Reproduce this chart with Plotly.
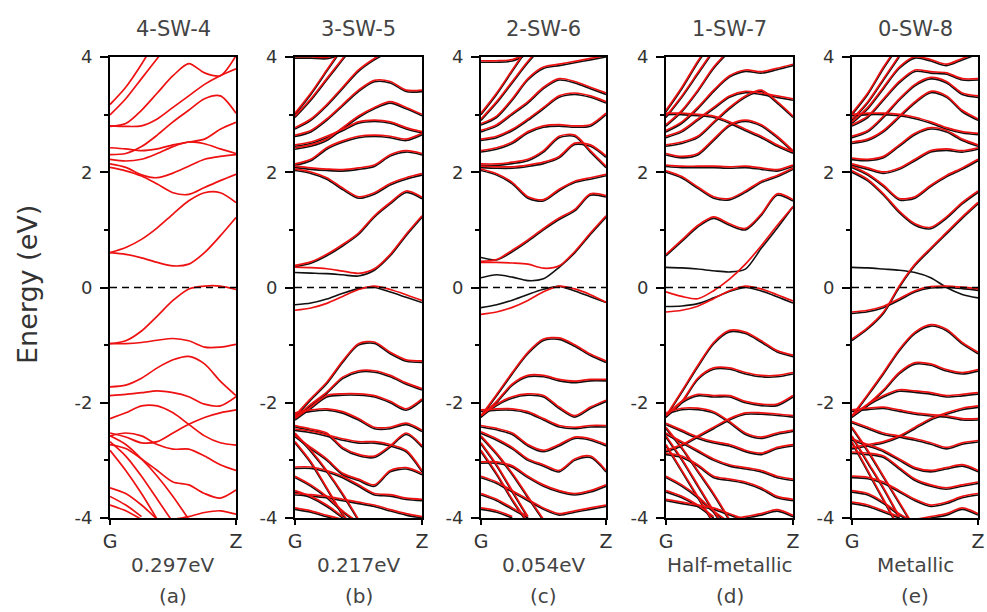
import plotly.graph_objects as go

# ---------------- data ----------------
K = [0, 0.125, 0.25, 0.375, 0.5, 0.625, 0.75, 0.875, 1.0]
TITLES = ["4-SW-4", "3-SW-5", "2-SW-6", "1-SW-7", "0-SW-8"]
GAP_LABELS = ["0.297eV", "0.217eV", "0.054eV", "Half-metallic", "Metallic"]
LETTERS = ["(a)", "(b)", "(c)", "(d)", "(e)"]
Y_TICKS = [-4, -2, 0, 2, 4]
Y_LABELS = ["-4", "-2", "0", "2", "4"]
Y_MINOR = [-3, -1, 1, 3]
X_TICKS = [0, 1]
X_LABELS = ["G", "Z"]

# panel (a): non-magnetic, red only
A_UP = [
    [0.58, 0.55, 0.49, 0.41, 0.35, 0.38, 0.58, 0.87, 1.19],
    [0.58, 0.67, 0.81, 1.01, 1.25, 1.48, 1.62, 1.62, 1.45],
    [2.06, 2.0, 1.91, 1.77, 1.62, 1.59, 1.71, 1.83, 1.94],
    [2.12, 2.06, 1.93, 1.88, 1.96, 2.08, 2.2, 2.25, 2.28],
    [2.2, 2.17, 2.2, 2.3, 2.42, 2.5, 2.47, 2.38, 2.3],
    [2.28, 2.3, 2.42, 2.62, 2.85, 3.05, 3.25, 3.3, 3.0],
    [2.4, 2.38, 2.35, 2.38, 2.45, 2.5, 2.55, 2.72, 2.84],
    [2.78, 2.77, 2.78, 2.9, 3.1, 3.3, 3.5, 3.65, 3.77],
    [2.77, 2.82, 3.05, 3.35, 3.65, 3.86, 3.7, 3.65, 4.0],
    [2.97, 3.25, 3.6, 3.95, 4.3],
    [3.15, 3.45, 3.85, 4.3],
    [-1.0, -0.95, -0.78, -0.52, -0.25, -0.05, 0.0, 0.0, -0.06],
    [-1.0, -1.0, -0.98, -0.94, -0.91, -0.95, -1.06, -1.06, -1.01],
    [-1.75, -1.72, -1.6, -1.42, -1.28, -1.22, -1.35, -1.65, -1.9],
    [-1.9, -1.88, -1.85, -1.82, -1.85, -1.92, -2.05, -2.08, -1.92],
    [-2.3, -2.2, -2.08, -2.08, -2.2, -2.4, -2.6, -2.72, -2.76],
    [-2.55, -2.62, -2.72, -2.7, -2.55, -2.4, -2.28, -2.2, -2.15],
    [-2.6, -2.55, -2.6, -2.75, -2.83, -2.83, -2.95, -3.1, -3.2],
    [-2.75, -2.82, -3.0, -3.2, -3.4, -3.45, -3.6, -3.68, -3.54],
    [-2.6, -2.75, -3.0, -3.3, -3.65, -4.05],
    [-2.7, -2.95, -3.3, -3.7, -4.1],
    [-2.85, -3.2, -3.6, -4.05],
    [-3.5, -3.6, -3.8, -4.05],
    [-3.65, -3.8, -4.0],
    [-3.8, -3.9, -4.05],
    [-4.1, -4.1, -4.1, -4.1, -4.05, -4.0, -3.93, -3.9, -3.96],
]
A_DN = []
A_BOTH = []

# panel (b)
B_BOTH = [
    [0.36, 0.42, 0.55, 0.72, 0.92, 1.22, 1.45, 1.65, 1.54],
    [2.03, 1.98, 1.88, 1.7, 1.55, 1.62, 1.78, 1.88, 1.95],
    [2.08, 2.05, 2.03, 2.02, 2.05, 2.1, 2.28, 2.35, 2.3],
    [2.12, 2.2, 2.4, 2.52, 2.6, 2.62, 2.6, 2.55, 2.65],
    [2.4, 2.45, 2.55, 2.75, 2.95, 3.1, 3.2, 3.1, 2.98],
    [2.45, 2.5, 2.6, 2.72, 2.85, 2.88, 2.85, 2.75, 2.68],
    [2.62, 2.7, 2.9, 3.15, 3.4, 3.57, 3.55, 3.4, 3.4],
    [2.75, 2.9, 3.15, 3.45, 3.75, 3.95, 4.1],
    [2.95, 3.25, 3.6, 3.95, 4.3],
    [3.0, 3.35, 3.75, 4.15],
    [3.98, 3.98, 3.97, 4.05],
    [-2.25, -1.95, -1.67, -1.3, -1.0, -0.97, -1.15, -1.28, -1.3],
    [-2.28, -2.05, -1.84, -1.58, -1.47, -1.47, -1.55, -1.68, -1.78],
    [-2.3, -2.1, -1.9, -1.87, -1.87, -1.9, -2.0, -2.13, -1.96],
    [-2.2, -2.15, -2.13, -2.18, -2.3, -2.45, -2.45, -2.38, -2.5],
    [-2.42, -2.48, -2.55, -2.8, -2.92, -2.95, -2.77, -2.55, -2.77],
    [-2.48, -2.52, -2.58, -2.65, -2.7, -2.7, -2.75, -2.85, -3.2],
    [-2.59, -2.8, -3.0, -3.25, -3.35, -3.45, -3.2, -3.15, -3.25],
    [-3.14, -3.14, -3.2, -3.3, -3.45, -3.6, -3.62, -3.68, -3.7],
    [-2.55, -2.85, -3.2, -3.6, -4.05],
    [-2.7, -3.05, -3.5, -3.95, -4.3],
    [-3.3, -3.45, -3.65, -3.9, -4.1],
    [-3.55, -3.65, -3.8, -4.0],
    [-3.85, -3.9, -3.98, -4.05],
    [-3.6, -3.62, -3.65, -3.7, -3.75, -3.8, -3.88, -3.95, -4.0],
]
B_UP = [
    [0.33, 0.32, 0.3, 0.26, 0.22, 0.3, 0.55, 0.9, 1.22],
    [-0.42, -0.38, -0.3, -0.18, -0.06, 0.0, -0.06, -0.15, -0.25],
]
B_DN = [
    [0.26, 0.25, 0.24, 0.22, 0.2, 0.3, 0.55, 0.9, 1.22],
    [-0.3, -0.27, -0.2, -0.1, -0.02, 0.0, -0.08, -0.17, -0.26],
]

# panel (c)
C_BOTH = [
    [2.03, 1.95, 1.8, 1.55, 1.5, 1.68, 1.82, 1.88, 1.94],
    [2.08, 2.07, 2.07, 2.1, 2.15, 2.25, 2.48, 2.45, 2.26],
    [2.12, 2.12, 2.15, 2.2, 2.35, 2.6, 2.62, 2.35, 2.08],
    [2.35, 2.4, 2.5, 2.68, 2.78, 2.8, 2.78, 2.8, 3.0],
    [2.55, 2.6, 2.72, 2.9, 3.1, 3.3, 3.35, 3.3, 3.2],
    [2.7, 2.8, 3.0, 3.2, 3.45, 3.6, 3.55, 3.45, 3.35],
    [2.82, 2.95, 3.25, 3.6, 3.8, 3.85, 3.9, 3.95, 4.0],
    [2.9, 3.2, 3.55, 3.9, 4.2],
    [3.0, 3.35, 3.75, 4.15],
    [3.91, 3.91, 3.93, 4.05],
    [-2.25, -1.88, -1.5, -1.15, -0.92, -0.9, -1.02, -1.18, -1.3],
    [-2.25, -2.0, -1.7, -1.55, -1.55, -1.62, -1.65, -1.62, -1.62],
    [-2.25, -2.05, -1.92, -1.87, -1.9, -2.1, -2.25, -2.1, -1.98],
    [-2.15, -2.13, -2.13, -2.18, -2.3, -2.42, -2.45, -2.42, -2.42],
    [-2.42, -2.47, -2.55, -2.75, -2.85, -2.75, -2.62, -2.65, -2.75],
    [-2.53, -2.65, -2.8, -3.0, -3.1, -3.2, -3.0, -2.95, -3.2],
    [-3.05, -3.05, -3.12, -3.3, -3.45, -3.55, -3.6, -3.55, -3.45],
    [-3.3, -3.4, -3.55, -3.7, -3.85, -3.95, -3.9, -3.85, -3.8],
    [-2.6, -2.9, -3.25, -3.65, -4.05],
    [-2.72, -3.1, -3.55, -4.0],
    [-2.85, -3.25, -3.7, -4.1],
    [-3.6, -3.7, -3.85, -4.0],
    [-3.85, -3.9, -4.0],
]
C_UP = [
    [0.41, 0.41, 0.4, 0.38, 0.31, 0.35, 0.6, 0.92, 1.22],
    [0.43, 0.46, 0.62, 0.8, 1.0, 1.18, 1.33, 1.6, 1.57],
    [-0.49, -0.45, -0.37, -0.25, -0.1, 0.0, -0.05, -0.15, -0.28],
]
C_DN = [
    [0.17, 0.22, 0.18, 0.12, 0.15, 0.35, 0.6, 0.92, 1.22],
    [0.52, 0.48, 0.62, 0.8, 1.0, 1.18, 1.33, 1.6, 1.57],
    [-0.35, -0.3, -0.22, -0.12, -0.03, 0.02, -0.06, -0.16, -0.26],
]

# panel (d)
D_BOTH = [
    [0.55, 0.8, 1.05, 1.2, 1.08, 1.0, 1.25, 1.6, 1.5],
    [2.0, 1.9, 1.72, 1.55, 1.52, 1.65, 1.82, 1.92, 2.05],
    [2.1, 2.08, 2.08, 2.08, 2.07, 2.08, 2.05, 2.02, 2.1],
    [2.3, 2.25, 2.3, 2.55, 2.8, 2.88, 2.8, 2.6, 2.35],
    [3.0, 3.0, 2.98, 2.95, 2.85, 2.72, 2.6, 2.45, 2.33],
    [2.45, 2.5, 2.6, 2.85, 3.1, 3.3, 3.4, 3.2, 2.95],
    [2.6, 2.7, 2.9, 3.1, 3.3, 3.38, 3.35, 3.3, 3.25],
    [2.7, 2.85, 3.1, 3.4, 3.65, 3.75, 3.72, 3.78, 3.85],
    [2.8, 3.05, 3.4, 3.8, 4.1],
    [2.95, 3.3, 3.7, 4.1],
    [3.05, 3.45, 3.9, 4.3],
    [-2.25, -1.82, -1.38, -0.98, -0.77, -0.8, -0.95, -1.12, -1.2],
    [-2.25, -2.0, -1.6, -1.42, -1.42, -1.5, -1.55, -1.55, -1.5],
    [-2.25, -2.0, -1.88, -1.9, -1.9, -2.0, -2.05, -2.05, -1.9],
    [-2.2, -2.12, -2.12, -2.18, -2.35, -2.55, -2.62, -2.55, -2.5],
    [-2.85, -2.75, -2.6, -2.45, -2.3, -2.2, -2.2, -2.22, -2.25],
    [-2.38, -2.5, -2.62, -2.7, -2.75, -2.85, -2.9, -2.8, -2.75],
    [-2.55, -2.7, -2.85, -3.0, -3.1, -3.15, -3.2, -3.3, -3.35],
    [-2.9, -2.95, -3.1, -3.3, -3.35, -3.4, -3.5, -3.65, -3.7],
    [-2.45, -2.8, -3.2, -3.6, -4.05],
    [-2.6, -3.0, -3.45, -3.9, -4.3],
    [-2.75, -3.2, -3.65, -4.1],
    [-3.3, -3.45, -3.65, -3.9, -4.1],
    [-3.55, -3.65, -3.8, -4.0],
    [-3.7, -3.75, -3.8, -3.85, -3.95, -4.05],
    [-4.1, -4.1, -4.1, -4.1, -4.05, -4.0, -3.95, -3.88, -3.98],
]
D_UP = [
    [-0.45, -0.42, -0.35, -0.22, -0.08, 0.0, -0.05, -0.15, -0.26],
    [-0.1, -0.18, -0.22, -0.08, 0.12, 0.38, 0.7, 1.05, 1.38],
]
D_DN = [
    [-0.33, -0.32, -0.28, -0.18, -0.07, 0.0, -0.06, -0.16, -0.27],
    [0.35, 0.34, 0.32, 0.29, 0.27, 0.32, 0.68, 1.03, 1.4],
]

# panel (e)
E_BOTH = [
    [-0.92, -0.72, -0.45, 0.0, 0.38, 0.66, 0.93, 1.2, 1.45],
    [2.0, 1.85, 1.6, 1.3, 1.08, 1.02, 1.2, 1.45, 1.65],
    [2.08, 1.95, 1.75, 1.52, 1.55, 1.75, 1.92, 2.05, 2.2],
    [2.12, 2.05, 1.98, 2.05, 2.2, 2.35, 2.38, 2.35, 2.4],
    [2.22, 2.2, 2.25, 2.45, 2.65, 2.75, 2.7, 2.55, 2.45],
    [2.98, 3.0, 3.0, 2.98, 2.93, 2.85, 2.75, 2.68, 2.65],
    [2.5, 2.55, 2.7, 2.95, 3.2, 3.38, 3.3, 3.05, 2.9],
    [2.6, 2.7, 2.95, 3.25, 3.5, 3.62, 3.55, 3.35, 3.3],
    [2.8, 2.95, 3.25, 3.55, 3.75, 3.72, 3.7, 3.6, 3.6],
    [2.85, 3.1, 3.45, 3.8, 3.98, 3.93, 3.85, 3.95, 4.05],
    [2.9, 3.2, 3.6, 4.0],
    [3.0, 3.35, 3.8, 4.2],
    [-0.45, -0.42, -0.35, -0.22, -0.08, -0.01, 0.0, -0.02, -0.05],
    [-2.25, -1.88, -1.5, -1.1, -0.8, -0.67, -0.75, -0.98, -1.15],
    [-2.25, -2.05, -1.8, -1.5, -1.33, -1.35, -1.45, -1.5, -1.45],
    [-2.25, -2.05, -1.9, -1.8, -1.82, -1.85, -1.9, -1.88, -1.85],
    [-2.8, -2.75, -2.7, -2.6, -2.45, -2.3, -2.2, -2.12, -2.08],
    [-2.15, -2.12, -2.1, -2.15, -2.2, -2.23, -2.25, -2.3, -2.3],
    [-2.35, -2.45, -2.55, -2.6, -2.65, -2.72, -2.8, -2.72, -2.68],
    [-2.65, -2.75, -2.85, -3.0, -3.15, -3.2, -3.15, -3.1, -3.2],
    [-2.88, -2.9, -2.95, -3.15, -3.35, -3.45, -3.5, -3.45, -3.4],
    [-3.3, -3.32, -3.4, -3.55, -3.7, -3.8, -3.75, -3.65, -3.6],
    [-2.45, -2.85, -3.3, -3.75, -4.2],
    [-2.6, -3.05, -3.5, -4.0],
    [-2.7, -3.2, -3.7, -4.2],
    [-3.55, -3.6, -3.75, -3.95, -4.1],
    [-3.75, -3.8, -3.9, -4.0],
    [-4.1, -4.1, -4.1, -4.1, -4.05, -4.0, -3.95, -3.85, -3.95],
]
E_UP = []
E_DN = [
    [0.35, 0.34, 0.32, 0.3, 0.26, 0.17, 0.0, -0.12, -0.18],
]

PANELS = [
    (A_BOTH, A_UP, A_DN),
    (B_BOTH, B_UP, B_DN),
    (C_BOTH, C_UP, C_DN),
    (D_BOTH, D_UP, D_DN),
    (E_BOTH, E_UP, E_DN),
]

# ---------------- layout constants ----------------
W, H = 987, 612
LEFT_PX = [110, 295, 481, 666, 852]
RIGHT_PX = [236, 422, 606, 793, 978]
TOP_PX, BOT_PX = 57, 518
RED = "#ee1111"
BLACK = "#111111"
FONT = "DejaVu Sans, Liberation Sans, Arial, sans-serif"

fig = go.Figure()
layout = dict(
    width=W, height=H,
    margin=dict(l=0, r=0, t=0, b=0, pad=0, autoexpand=False),
    paper_bgcolor="white", plot_bgcolor="white",
    showlegend=False,
    font=dict(family=FONT, color="#333"),
)
ydom = [1 - BOT_PX / H, 1 - TOP_PX / H]
shapes, annotations = [], []

for i, (both, up, dn) in enumerate(PANELS):
    n = i + 1
    ov = i + 6
    xs = "x" if n == 1 else f"x{n}"
    ys = "y" if n == 1 else f"y{n}"
    yov = f"y{ov}"
    xdom = [LEFT_PX[i] / W, RIGHT_PX[i] / W]

    # spin-down (black) on base axis
    for band in both + dn:
        fig.add_trace(go.Scatter(
            x=K[:len(band)], y=band, mode="lines", xaxis=xs, yaxis=ys,
            line=dict(color=BLACK, width=1.6, shape="spline", smoothing=0.8),
            hoverinfo="skip", cliponaxis=True))
    # spin-up (red) on a slightly shifted overlay axis, drawn on top
    for band in both + up:
        fig.add_trace(go.Scatter(
            x=K[:len(band)], y=band, mode="lines", xaxis=xs, yaxis=yov,
            line=dict(color=RED, width=1.7, shape="spline", smoothing=0.8),
            hoverinfo="skip", cliponaxis=True))

    layout[f"xaxis{'' if n == 1 else n}"] = dict(
        domain=xdom, range=[0, 1], anchor=ys,
        showline=True, mirror=True, linecolor="black", linewidth=2,
        ticks="outside", tickvals=X_TICKS, ticktext=X_LABELS,
        ticklen=5, tickwidth=1.5, tickcolor="black",
        tickfont=dict(size=19, color="#333", family=FONT),
        showgrid=False, zeroline=False, fixedrange=True, automargin=False)
    layout[f"yaxis{'' if n == 1 else n}"] = dict(
        domain=ydom, range=[-4, 4], anchor=xs,
        showline=True, mirror=True, linecolor="black", linewidth=2,
        ticks="outside", tickvals=Y_TICKS, ticktext=Y_LABELS,
        ticklen=8, tickwidth=1.5,
        tickcolor="black", ticklabelstandoff=4,
        tickfont=dict(size=18, color="#333", family=FONT),
        minor=dict(tickvals=Y_MINOR, ticks="outside", ticklen=4,
                   tickwidth=1.5, tickcolor="black", showgrid=False),
        showgrid=False, zeroline=False, fixedrange=True, automargin=False)
    layout[f"yaxis{ov}"] = dict(
        domain=ydom, range=[-4.025, 3.975], overlaying=ys, anchor=xs,
        visible=False, showgrid=False, zeroline=False, fixedrange=True)

    shapes.append(dict(type="line", xref=f"{xs} domain", x0=0, x1=1,
                       yref=ys, y0=0, y1=0,
                       line=dict(color="black", width=1.5, dash="7px,5px")))

    cx = (LEFT_PX[i] + RIGHT_PX[i]) / 2 / W
    for txt, ypx, sz in ((TITLES[i], 29, 21), (GAP_LABELS[i], 565, 20), (LETTERS[i], 596, 20)):
        annotations.append(dict(text=txt, x=cx, y=1 - ypx / H, xref="paper", yref="paper",
                                xanchor="center", yanchor="middle", showarrow=False,
                                font=dict(size=sz, color="#444", family=FONT)))

annotations.append(dict(text="Energy (eV)", x=27 / W, y=1 - 285 / H, xref="paper", yref="paper",
                        xanchor="center", yanchor="middle",
                        showarrow=False, textangle=-90,
                        font=dict(size=27, color="#333", family=FONT)))

layout["shapes"] = shapes
layout["annotations"] = annotations
fig.update_layout(**layout)
fig.write_html("out.html", config={"displayModeBar": False},
               post_script="document.body.style.margin='0';document.body.style.overflow='hidden';")
